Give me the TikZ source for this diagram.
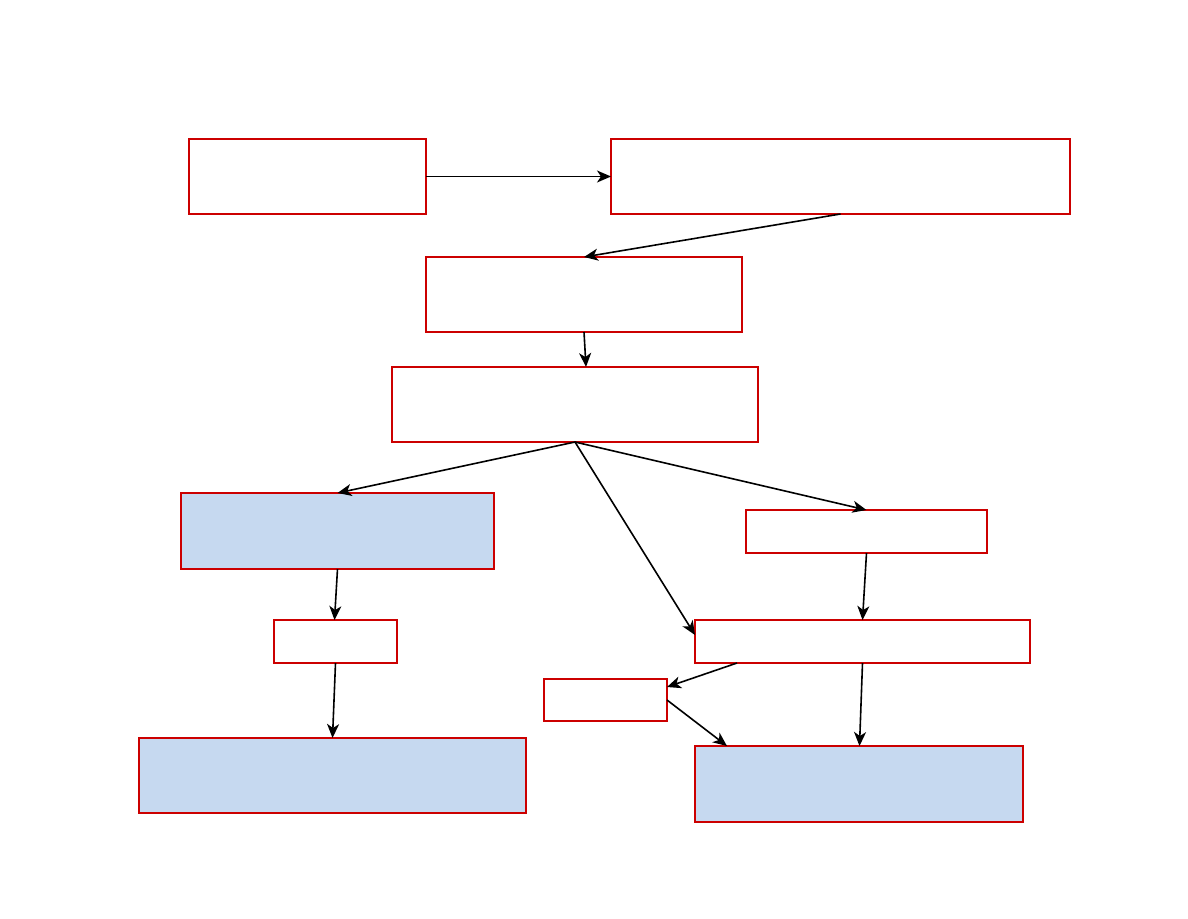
\documentclass[tikz,border=0pt]{standalone}
\usetikzlibrary{arrows.meta,calc}
\definecolor{boxred}{HTML}{CC0000}
\definecolor{boxblue}{HTML}{C6D9F0}
\tikzset{
  box/.style={draw=boxred, line width=1.3pt, inner sep=0pt, outer sep=0pt, fill=white},
  bluebox/.style={box, fill=boxblue},
  conn/.style={line width=1.6pt, -{Stealth[length=14pt,width=12pt,inset=4pt]}}
}
\newcommand\mkbox[6]{\node[#2, minimum width={(#5-#3)*1pt}, minimum height={(#6-#4)*1pt}] (#1) at ({(#3+#5)/2},{(#4+#6)/2}) {};}
\begin{document}
\begin{tikzpicture}[x=1pt,y=-1pt]
\useasboundingbox[fill=white] (0,0) rectangle (1188,918);
\mkbox{A}{box}{189}{139}{426}{214}
\mkbox{B}{box}{611}{139}{1070}{214}
\mkbox{C}{box}{426}{257}{742}{332}
\mkbox{D}{box}{392}{367}{758}{442}
\mkbox{E}{bluebox}{181}{493}{494}{569}
\mkbox{F}{box}{746}{510}{987}{553}
\mkbox{G}{box}{274}{620}{397}{663}
\mkbox{H}{box}{695}{620}{1030}{663}
\mkbox{I}{box}{544}{679}{667}{721}
\mkbox{J}{bluebox}{139}{738}{526}{813}
\mkbox{K}{bluebox}{695}{746}{1023}{822}
\draw[conn] (A.east) -- (B.west);
\draw[conn] (B.south) -- (C.north);
\draw[conn] (C.south) -- ([xshift=2pt]C.south |- D.north);
\draw[conn] (D.south) -- (E.north);
\draw[conn] (D.south) -- (F.north);
\draw[conn] (D.south) -- ([yshift=-15pt]H.north west);
\draw[conn] (E.south) -- ([xshift=-3pt]E.south |- G.north);
\draw[conn] (F.south) -- ([xshift=-4pt]F.south |- H.north);
\draw[conn] (G.south) -- ([xshift=-3pt]G.south |- J.north);
\draw[conn] ([xshift=42pt]H.south west) -- ([yshift=-8pt]I.north east);
\draw[conn] (H.south) -- ([xshift=-3pt]H.south |- K.north);
\draw[conn] ([yshift=-21pt]I.north east) -- ([xshift=32pt]K.north west);
\end{tikzpicture}
\end{document}
